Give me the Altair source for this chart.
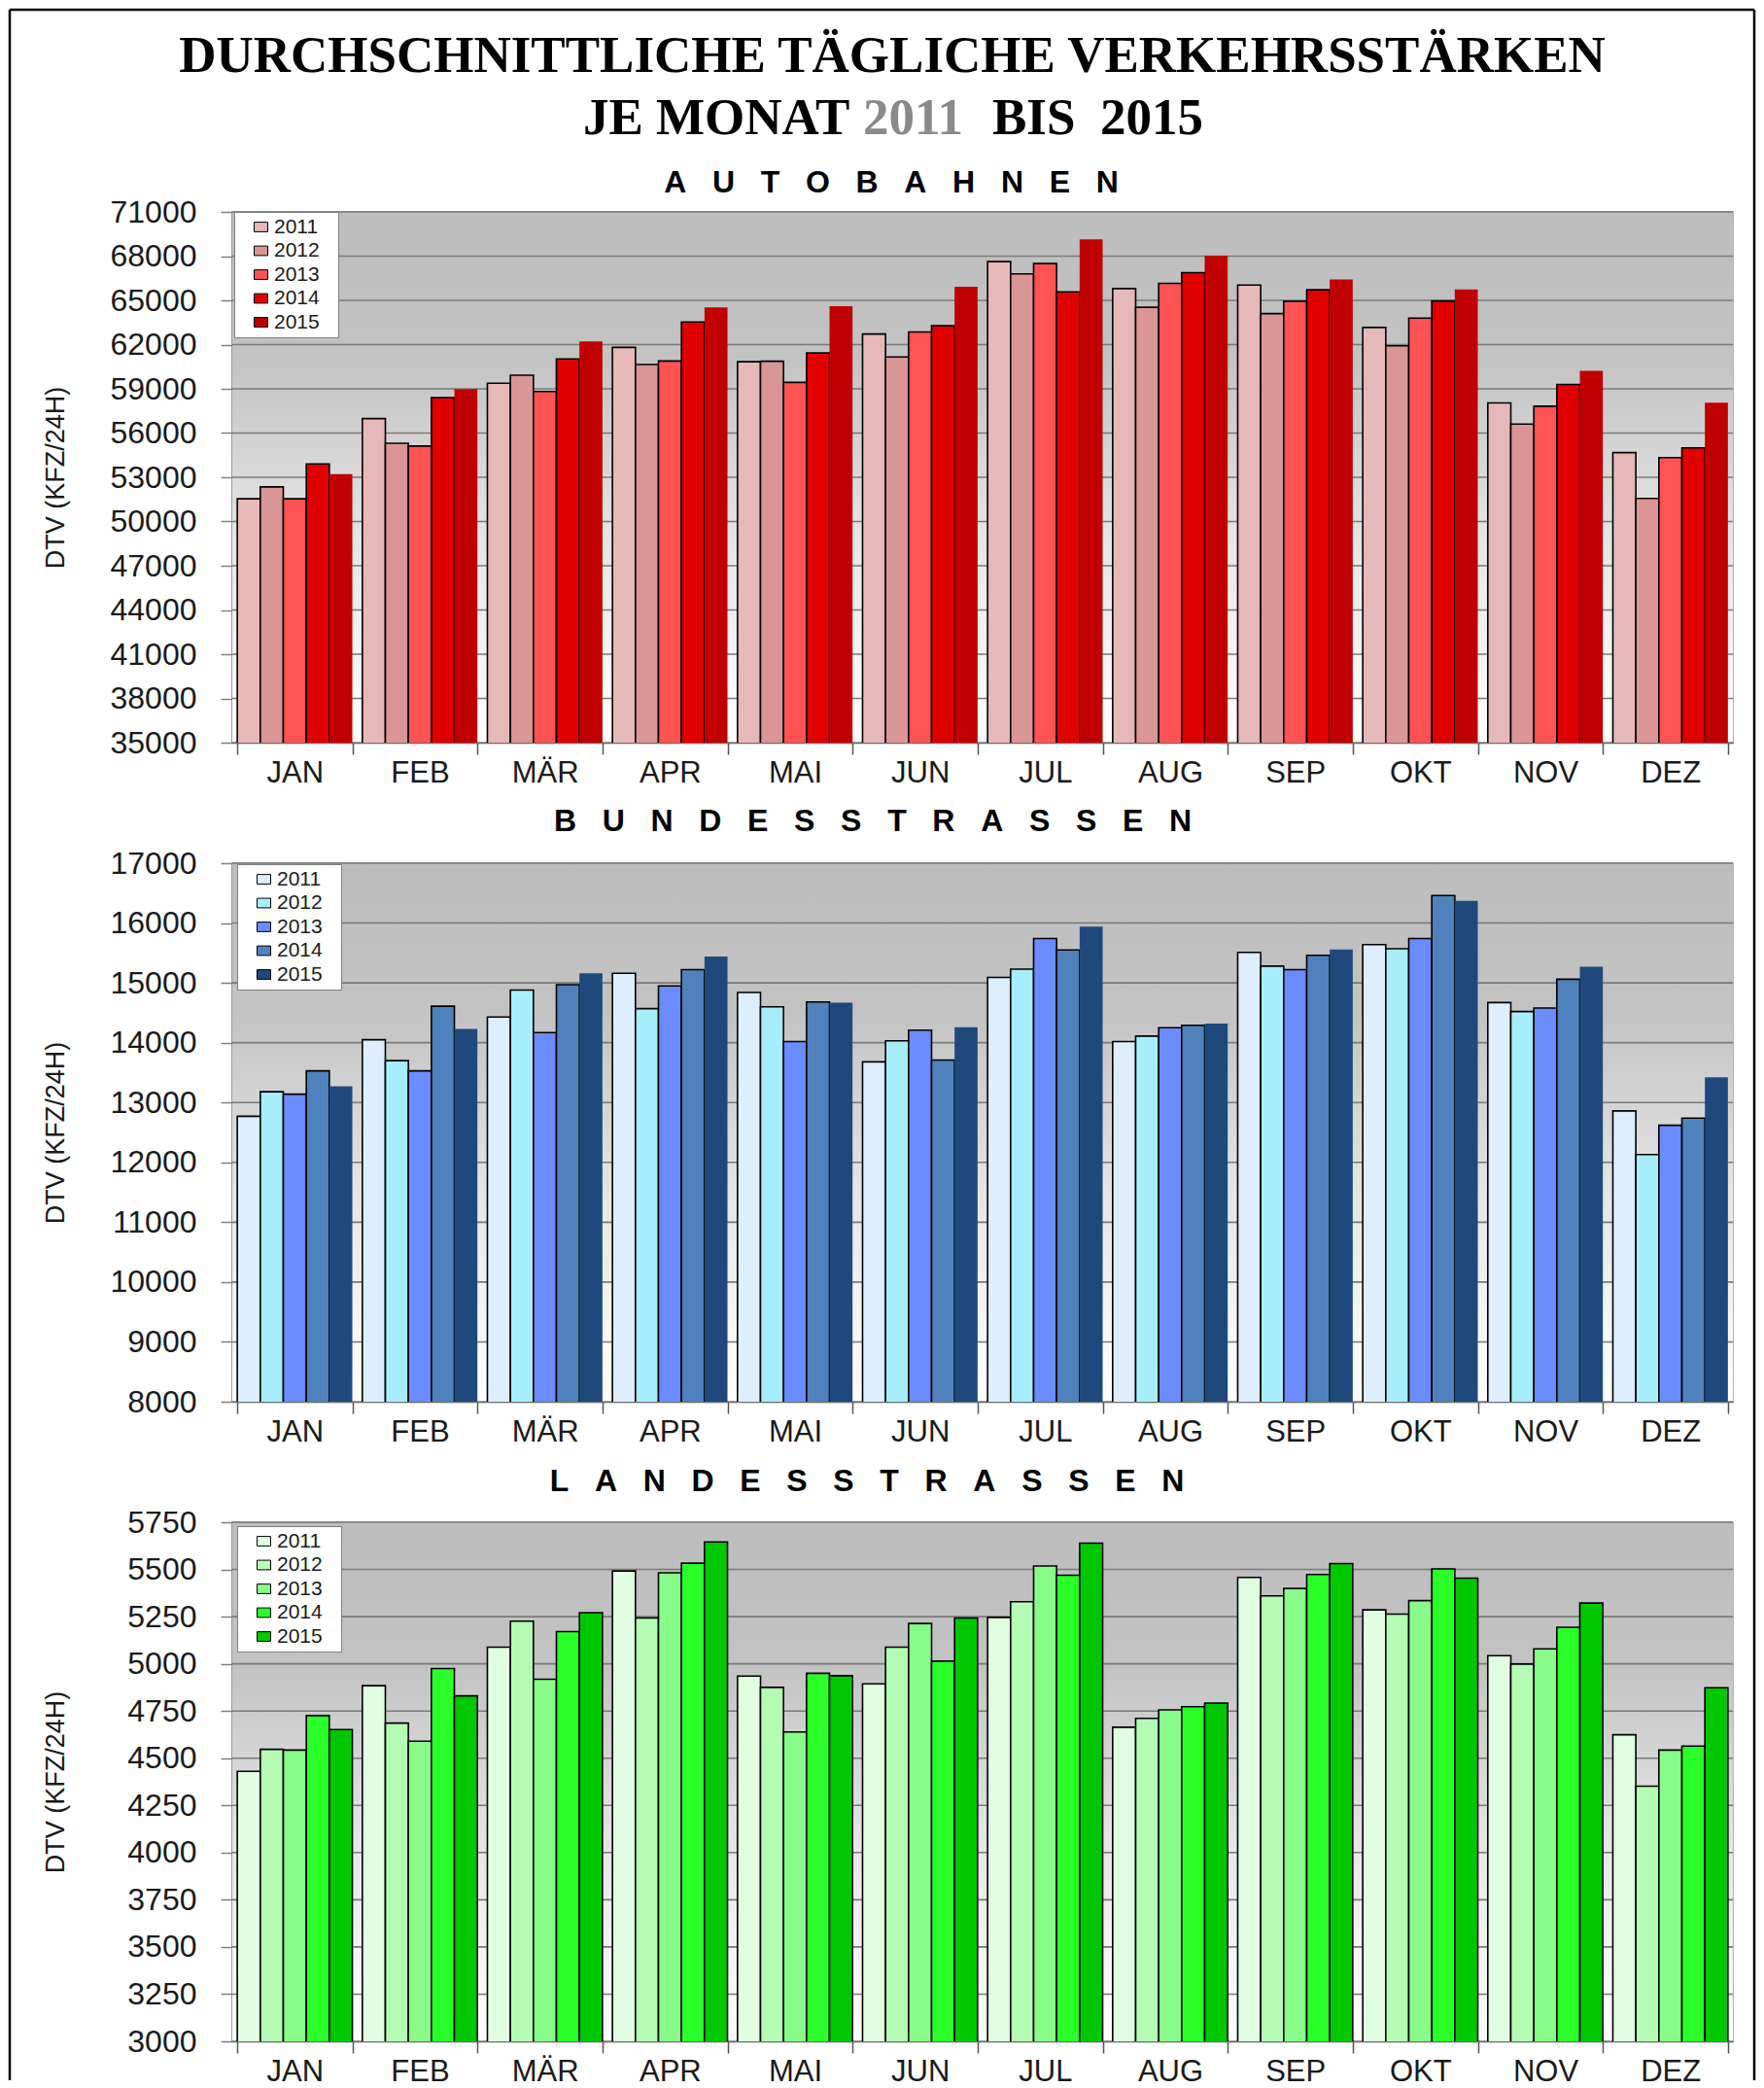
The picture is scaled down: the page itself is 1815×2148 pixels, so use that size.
import altair as alt
import pandas as pd

months = ["JAN", "FEB", "MÄR", "APR", "MAI", "JUN", "JUL", "AUG", "SEP", "OKT", "NOV", "DEZ"]
years = ["2011", "2012", "2013", "2014", "2015"]

# AUTOBAHNEN
ab_2011 = [51540, 56980, 59380, 61810, 60840, 62720, 67630, 65800, 66040, 63160, 58040, 54670]
ab_2012 = [52350, 55310, 59920, 60650, 60870, 61160, 66800, 64530, 64100, 61920, 56610, 51570]
ab_2013 = [51540, 55120, 58820, 60890, 59440, 62860, 67500, 66150, 64940, 63800, 57820, 54340]
ab_2014 = [53910, 58410, 61030, 63530, 61430, 63290, 65580, 66880, 65720, 64960, 59300, 54990]
ab_2015 = [53210, 58980, 62210, 64530, 64610, 65930, 69140, 68010, 66420, 65740, 60220, 58060]
ab_ticks = [35000, 38000, 41000, 44000, 47000, 50000, 53000, 56000, 59000, 62000, 65000, 68000, 71000]

# BUNDESSTRASSEN
bs_2011 = [12770, 14050, 14430, 15160, 14840, 13680, 15090, 14020, 15510, 15640, 14670, 12860]
bs_2012 = [13180, 13700, 14880, 14570, 14600, 14030, 15230, 14110, 15280, 15570, 14520, 12130]
bs_2013 = [13140, 13530, 14170, 14950, 14020, 14210, 15740, 14250, 15220, 15740, 14580, 12620]
bs_2014 = [13530, 14610, 14970, 15220, 14680, 13710, 15550, 14290, 15460, 16460, 15060, 12740]
bs_2015 = [13270, 14230, 15160, 15440, 14670, 14260, 15940, 14320, 15560, 16370, 15270, 13420]
bs_ticks = [8000, 9000, 10000, 11000, 12000, 13000, 14000, 15000, 16000, 17000]

# LANDESSTRASSEN
ls_2011 = [4430, 4884, 5088, 5492, 4935, 4894, 5246, 4664, 5458, 5286, 5043, 4624]
ls_2012 = [4547, 4686, 5226, 5243, 4875, 5088, 5329, 4711, 5360, 5263, 4999, 4352]
ls_2013 = [4543, 4590, 4918, 5482, 4639, 5214, 5518, 4756, 5399, 5335, 5079, 4543]
ls_2014 = [4726, 4975, 5171, 5533, 4950, 5014, 5469, 4773, 5473, 5503, 5194, 4564]
ls_2015 = [4652, 4830, 5271, 5646, 4937, 5243, 5639, 4792, 5531, 5454, 5322, 4873]
ls_ticks = [3000, 3250, 3500, 3750, 4000, 4250, 4500, 4750, 5000, 5250, 5500, 5750]

red_colors = ["#e6b8b7", "#da9694", "#ff5252", "#e00000", "#c00000"]
blue_colors = ["#ddeeff", "#a6eefc", "#6a8cff", "#4f81bd", "#1f497d"]
green_colors = ["#e0ffe0", "#b4fcb4", "#88fc88", "#2aff2a", "#00c800"]

SANS = "Liberation Sans"
SERIF = "Liberation Serif"
W = 1544


def long_df(series):
    rows = []
    for y, vals in zip(years, series):
        for m, v in zip(months, vals):
            rows.append({"month": m, "year": y, "value": v})
    return pd.DataFrame(rows)


dummy = pd.DataFrame({"k": [0]})

grad = {
    "gradient": "linear", "x1": 0, "y1": 0, "x2": 0, "y2": 1,
    "stops": [
        {"offset": 0, "color": "#bdbdbd"},
        {"offset": 0.28, "color": "#c3c3c3"},
        {"offset": 0.62, "color": "#e6e6e6"},
        {"offset": 1, "color": "#ffffff"},
    ],
}

RECT_SYMBOL = "M-1,-0.7L1,-0.7L1,0.7L-1,0.7Z"


def make_panel(series, colors, ticks, height, title, title_x, title_y,
               no_stroke_2015, legend_x, legend_y):
    df = long_df(series)
    yscale = alt.Scale(domain=[ticks[0], ticks[-1]], nice=False, zero=False)
    yaxis = alt.Axis(values=ticks, format="d", labelFont=SANS, labelFontSize=32,
                     labelColor="#1a1a1a", labelPadding=25, tickSize=12,
                     tickColor="#808080", tickWidth=1.5, domainColor="#555555",
                     domainWidth=1.5, grid=False, title="DTV (KFZ/24H)",
                     titleFont=SANS, titleFontSize=27, titleFontWeight="normal",
                     titleColor="#1a1a1a", titleX=-182, titleY=height / 2,
                     titleAngle=270, titleAlign="center", titleBaseline="middle")
    xaxis = alt.Axis(labelAngle=0, labelFont=SANS, labelFontSize=31,
                     labelColor="#1a1a1a", labelPadding=4, tickSize=12,
                     tickBand="extent", tickColor="#555555", tickWidth=1.5,
                     domainColor="#555555", domainWidth=1.5)

    bg = alt.Chart(dummy).mark_rect(fill=grad).encode(
        x=alt.value(0), x2=alt.value(W), y=alt.value(0), y2=alt.value(height))

    grid = alt.Chart(pd.DataFrame({"value": ticks})).mark_rule(
        color="#7a7a7a", strokeWidth=1.6).encode(
        y=alt.Y("value:Q", scale=yscale, axis=yaxis))

    if no_stroke_2015:
        sop = alt.condition(alt.datum.year == "2015", alt.value(0), alt.value(1))
    else:
        sop = alt.value(1)

    bars = alt.Chart(df).mark_bar(stroke="black", strokeWidth=1.6, clip=True).encode(
        x=alt.X("month:N", sort=months, title=None,
                scale=alt.Scale(paddingInner=0.08, paddingOuter=0.04), axis=xaxis),
        xOffset=alt.XOffset("year:N", sort=years,
                            scale=alt.Scale(paddingInner=0, paddingOuter=0)),
        y=alt.Y("value:Q", scale=yscale, axis=yaxis),
        color=alt.Color("year:N", scale=alt.Scale(domain=years, range=colors),
                        legend=alt.Legend(orient="none", legendX=legend_x, legendY=legend_y,
                                          title="M", titleColor="transparent",
                                          titleOrient="right", titleFontSize=12,
                                          titlePadding=4,
                                          fillColor="white", strokeColor="#808080",
                                          padding=5,
                                          symbolType=RECT_SYMBOL, symbolSize=196,
                                          symbolStrokeColor="black", symbolStrokeWidth=1,
                                          symbolOffset=12, labelFont=SANS,
                                          labelFontSize=21, labelColor="#1a1a1a",
                                          rowPadding=2.5, labelOffset=3)),
        strokeOpacity=sop,
    )

    ttl = alt.Chart(dummy).mark_text(text=title, font=SANS, fontSize=32, fontWeight="bold",
                                     align="center", baseline="alphabetic",
                                     color="black").encode(
        x=alt.value(title_x), y=alt.value(title_y))

    return alt.layer(bg, grid, bars, ttl).properties(width=W, height=height)


sp = "\u2002\u2004"
p1 = make_panel([ab_2011, ab_2012, ab_2013, ab_2014, ab_2015], red_colors, ab_ticks, 546,
                sp.join("AUTOBAHNEN"), 678, -20, True, 2, 0)
p2 = make_panel([bs_2011, bs_2012, bs_2013, bs_2014, bs_2015], blue_colors, bs_ticks, 554,
                sp.join("BUNDESSTRASSEN"), 659, -33, True, 5, 1)
p3 = make_panel([ls_2011, ls_2012, ls_2013, ls_2014, ls_2015], green_colors, ls_ticks, 534,
                sp.join("LANDESSTRASSEN"), 653, -32, False, 5, 4)


def htext(txt, x, y, color="black", align="left"):
    return alt.Chart(dummy).mark_text(text=txt, font=SERIF, fontSize=53, fontWeight="bold",
                                      align=align, baseline="alphabetic", color=color).encode(
        x=alt.value(x), y=alt.value(y))


frame_l = alt.Chart(dummy).mark_rule(color="black", strokeWidth=2.5).encode(
    x=alt.value(-229), y=alt.value(0), y2=alt.value(2130))
frame_t = alt.Chart(dummy).mark_rule(color="black", strokeWidth=2.5).encode(
    x=alt.value(-229), x2=alt.value(1566), y=alt.value(0))
frame_r = alt.Chart(dummy).mark_rule(color="black", strokeWidth=2.5).encode(
    x=alt.value(1566), y=alt.value(0), y2=alt.value(2130))

header = alt.layer(
    frame_l, frame_t, frame_r,
    htext("DURCHSCHNITTLICHE TÄGLICHE VERKEHRSSTÄRKEN", 679, 64, align="center"),
    htext("JE MONAT", 361, 128),
    htext("2011", 649, 128, color="#8a8a8a"),
    htext("BIS", 782, 128),
    htext("2015", 893, 128),
).properties(width=W, height=84, view=alt.ViewBackground(stroke="transparent"))

chart = alt.vconcat(header, p1, p2, p3, spacing=124, bounds="flush").resolve_scale(
    color="independent"
).properties(padding=0, background="white").configure_view(
    stroke="#9a9a9a", strokeWidth=1.5
)

chart.save("out.html", embed_options={"renderer": "svg", "actions": False})
